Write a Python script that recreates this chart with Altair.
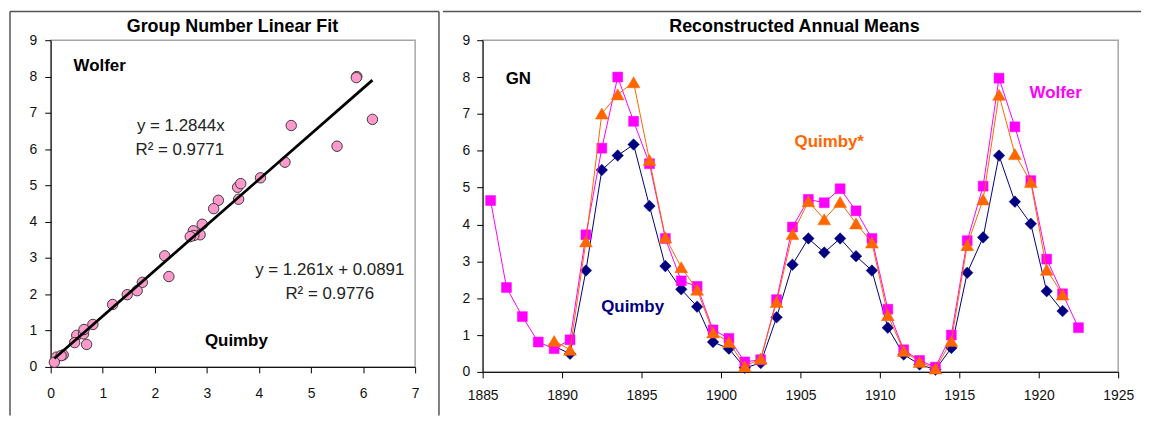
import altair as alt
import pandas as pd

FONT = "Liberation Sans"

# ---------------- data ----------------
# Left panel: Quimby (x) vs Wolfer (y) group numbers
scatter_quimby = [0.69, 0.50, 2.74, 5.50, 5.88, 6.18, 4.50, 2.87, 2.27, 1.76, 0.81,
                  0.63, 0.11, 0.24, 1.47, 2.91, 3.61, 3.22, 3.59, 3.13, 2.75, 1.19,
                  0.46, 0.20, 0.07, 0.64, 2.68, 3.65, 5.87, 4.62, 4.03, 2.19, 1.66]
scatter_wolfer = [0.62, 0.87, 3.75, 6.08, 8.00, 6.82, 5.64, 3.64, 2.49, 2.33, 1.17,
                  0.91, 0.27, 0.33, 1.99, 3.93, 4.62, 4.59, 4.95, 4.36, 3.62, 1.72,
                  0.67, 0.31, 0.13, 1.03, 3.59, 5.05, 7.97, 6.65, 5.21, 3.06, 2.10]

# Right panel: annual means
wolfer_years = [1885.5, 1886.5, 1887.5, 1888.5, 1889.5, 1890.5, 1891.5, 1892.5, 1893.5,
                1894.5, 1895.5, 1896.5, 1897.5, 1898.5, 1899.5, 1900.5, 1901.5, 1902.5,
                1903.5, 1904.5, 1905.5, 1906.5, 1907.5, 1908.5, 1909.5, 1910.5, 1911.5,
                1912.5, 1913.5, 1914.5, 1915.5, 1916.5, 1917.5, 1918.5, 1919.5, 1920.5,
                1921.5, 1922.5]
wolfer_gn = [4.65, 2.29, 1.50, 0.81, 0.63, 0.87, 3.72, 6.07, 8.00, 6.80, 5.65, 3.62,
             2.47, 2.32, 1.14, 0.91, 0.27, 0.33, 1.96, 3.93, 4.68, 4.59, 4.97, 4.37,
             3.62, 1.70, 0.60, 0.31, 0.13, 1.00, 3.56, 5.04, 7.97, 6.65, 5.19, 3.06,
             2.12, 1.20]

quimby_years = [1889.5, 1890.5, 1891.5, 1892.5, 1893.5, 1894.5, 1895.5, 1896.5, 1897.5,
                1898.5, 1899.5, 1900.5, 1901.5, 1902.5, 1903.5, 1904.5, 1905.5, 1906.5,
                1907.5, 1908.5, 1909.5, 1910.5, 1911.5, 1912.5, 1913.5, 1914.5, 1915.5,
                1916.5, 1917.5, 1918.5, 1919.5, 1920.5, 1921.5]
quimby_star_gn = [0.84, 0.60, 3.54, 7.01, 7.53, 7.86, 5.75, 3.65, 2.84, 2.23, 1.07,
                  0.81, 0.15, 0.36, 1.90, 3.74, 4.63, 4.14, 4.61, 4.03, 3.51, 1.54,
                  0.57, 0.27, 0.09, 0.84, 3.44, 4.68, 7.52, 5.91, 5.15, 2.77, 2.10]
quimby_gn = [0.70, 0.49, 2.75, 5.48, 5.87, 6.17, 4.50, 2.87, 2.24, 1.77, 0.81,
             0.63, 0.11, 0.24, 1.48, 2.91, 3.62, 3.24, 3.62, 3.14, 2.75, 1.20,
             0.47, 0.20, 0.06, 0.65, 2.69, 3.65, 5.87, 4.62, 4.02, 2.19, 1.65]

left_ticks_x = [0, 1, 2, 3, 4, 5, 6, 7]
ticks_y = [0, 1, 2, 3, 4, 5, 6, 7, 8, 9]
right_ticks_x = [1885, 1890, 1895, 1900, 1905, 1910, 1915, 1920, 1925]

left_title = "Group Number Linear Fit"
right_title = "Reconstructed Annual Means"
fit1_lines = ["y = 1.2844x", "R\u00b2 = 0.9771"]
fit2_lines = ["y = 1.261x + 0.0891", "R\u00b2 = 0.9776"]

C_WOLFER = "#FF00FF"
C_QSTAR = "#FF6600"
C_QUIMBY = "#000080"

# ---------------- helpers ----------------
dummy = pd.DataFrame({"d": [0]})


def axis(values, label_pad, fmt="d"):
    return alt.Axis(values=values, title=None, grid=False, domainColor="black",
                    domainWidth=1, tickColor="black", tickSize=6, tickWidth=1,
                    labelFont=FONT, labelFontSize=14, labelColor="#111111",
                    labelPadding=label_pad, labelOverlap=False, labelFlush=False,
                    format=fmt)


def label(text, x, y, size=17, bold=True, color="black", align="center"):
    return alt.Chart(dummy).mark_text(
        text=text, font=FONT, fontSize=size,
        fontWeight="bold" if bold else "normal", color=color,
        align=align, baseline="middle").encode(x=alt.value(x), y=alt.value(y))


def vline(x, y1, y2, color="#555555", w=1.5):
    return alt.Chart(dummy).mark_rule(color=color, strokeWidth=w).encode(
        x=alt.value(x), y=alt.value(y1), y2=alt.value(y2))


def hline(x1, x2, y, color="#555555", w=1.5):
    return alt.Chart(dummy).mark_rule(color=color, strokeWidth=w).encode(
        x=alt.value(x1), x2=alt.value(x2), y=alt.value(y))


# ---------------- left panel ----------------
scat = pd.DataFrame({"Quimby": scatter_quimby, "Wolfer": scatter_wolfer})
xl = alt.X("Quimby:Q", scale=alt.Scale(domain=[0, 7], nice=False, zero=False),
           axis=axis(left_ticks_x, 14))
yl = alt.Y("Wolfer:Q", scale=alt.Scale(domain=[0, 9], nice=False, zero=False),
           axis=axis(ticks_y, 8))

pts = alt.Chart(scat).mark_point(
    shape="circle", fill="#FF99CC", fillOpacity=1, stroke="#3a3a3a",
    strokeWidth=1, size=110, opacity=1).encode(x=xl, y=yl)
fit = alt.Chart(scat).transform_regression("Quimby", "Wolfer").mark_line(
    color="black", strokeWidth=2.8).encode(x=xl, y=yl)

left = alt.layer(
    vline(-41, -29, 378), hline(-41, 391, -29), vline(391, -29, 378),
    pts, fit,
    label(left_title, 183, -13, size=18),
    label("Wolfer", 23, 26, align="left"),
    label(fit1_lines[0], 131, 86, bold=False, color="#222222"),
    label(fit1_lines[1], 130, 111, bold=False, color="#222222"),
    label(fit2_lines[0], 281, 231, bold=False, color="#222222"),
    label(fit2_lines[1], 281, 256, bold=False, color="#222222"),
    label("Quimby", 187, 303),
).properties(width=367, height=329)

# ---------------- right panel ----------------
dfw = pd.DataFrame({"Year": wolfer_years, "GN": wolfer_gn})
dfqs = pd.DataFrame({"Year": quimby_years, "GN": quimby_star_gn})
dfq = pd.DataFrame({"Year": quimby_years, "GN": quimby_gn})

xr_scale = alt.Scale(domain=[1885, 1925], nice=False, zero=False)
yr_scale = alt.Scale(domain=[0, 9], nice=False, zero=False)
xr = alt.X("Year:Q", scale=xr_scale, axis=axis(right_ticks_x, 11))
yr = alt.Y("GN:Q", scale=yr_scale, axis=axis(ticks_y, 7))


def series(df, color, shape, size):
    ln = alt.Chart(df).mark_line(color=color, strokeWidth=1).encode(x=xr, y=yr)
    mk = alt.Chart(df).mark_point(shape=shape, fill=color, fillOpacity=1,
                                  stroke=color, strokeWidth=0.5, size=size,
                                  opacity=1).encode(x=xr, y=yr)
    return ln, mk


q_ln, q_mk = series(dfq, C_QUIMBY, "diamond", 135)
w_ln, w_mk = series(dfw, C_WOLFER, "square", 100)
s_ln, s_mk = series(dfqs, C_QSTAR, "triangle-up", 165)

right = alt.layer(
    hline(-40, 663, -29),
    q_ln, q_mk, w_ln, w_mk, s_ln, s_mk,
    label(right_title, 314, -13, size=18),
    label("GN", 36, 39),
    label("Quimby", 151, 269, color=C_QUIMBY),
    label("Quimby*", 349, 103, color=C_QSTAR),
    label("Wolfer", 577, 53, color=C_WOLFER),
).properties(width=640, height=334)

chart = alt.hconcat(left, right, spacing=0).properties(
    padding=0, background="white"
).configure_view(stroke="#a6a6a6", strokeWidth=1.5)

chart.save("out.html", embed_options={"renderer": "svg", "actions": False})
